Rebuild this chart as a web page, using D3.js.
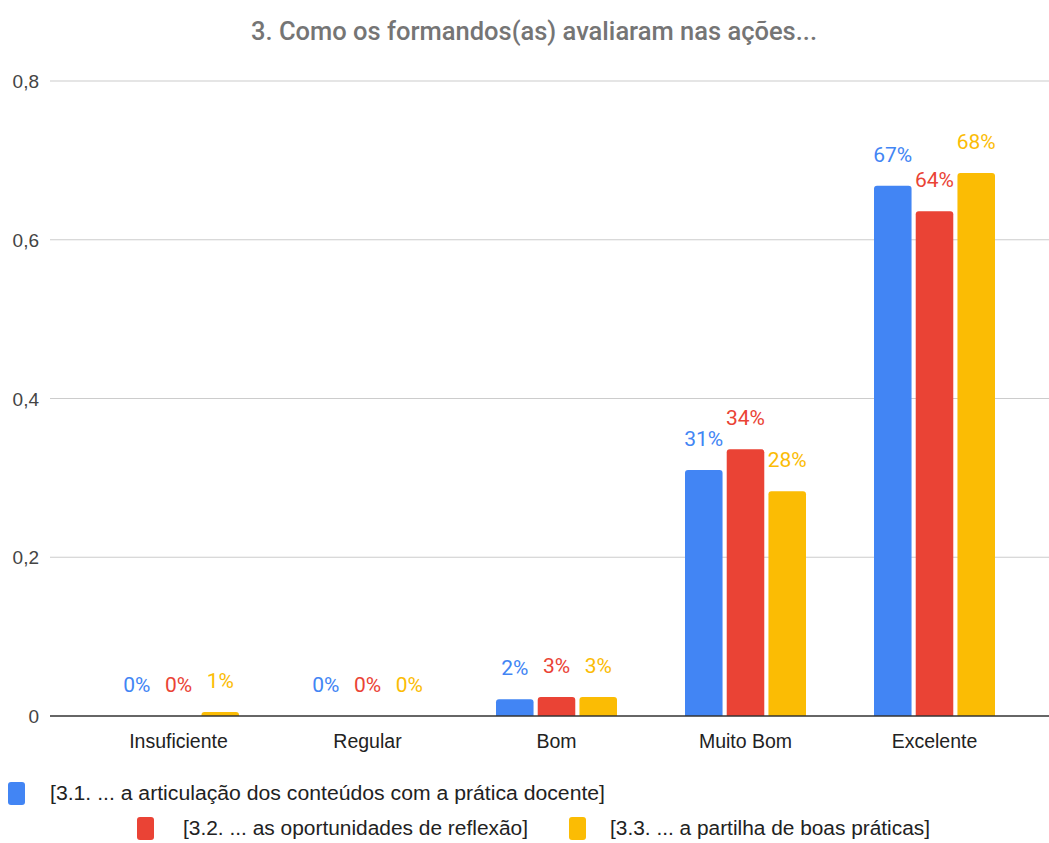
<!DOCTYPE html>
<html><head><meta charset="utf-8">
<script src="https://cdn.jsdelivr.net/npm/d3@7"></script>
<style>body{margin:0;background:#fff}svg{display:block}</style>
</head><body>
<svg id="c" width="1049" height="843"></svg>
<script>
const categories = ["Insuficiente","Regular","Bom","Muito Bom","Excelente"];
const seriesNames = [
  "[3.1. ... a articulação dos conteúdos com a prática docente]",
  "[3.2. ... as oportunidades de reflexão]",
  "[3.3. ... a partilha de boas práticas]"
];
const s1 = [0, 0, 0.021, 0.310, 0.668];
const s2 = [0, 0, 0.024, 0.336, 0.636];
const s3 = [0.005, 0, 0.024, 0.283, 0.684];
const labels1 = ["0%","0%","2%","31%","67%"];
const labels2 = ["0%","0%","3%","34%","64%"];
const labels3 = ["1%","0%","3%","28%","68%"];
const yTicks = [0, 0.2, 0.4, 0.6, 0.8];
const colors = ["#4285f4","#ea4335","#fbbc04"];

const svg = d3.select("#c");
const y = d3.scaleLinear().domain([0,0.8]).range([716,81]);
const x = d3.scaleBand().domain(categories).range([84,1029]).paddingInner(0).paddingOuter(0);
const xs = d3.scaleBand().domain([0,1,2]).range([0,121]).paddingInner(0.1);
const groupOffset = (x.bandwidth()-121)/2;

// title
svg.append("text").attr("x",534).attr("y",40).attr("text-anchor","middle")
  .attr("font-family","Roboto, Arial, sans-serif").attr("font-size",25).attr("font-weight",500)
  .attr("fill","#757575").attr("textLength",566).attr("lengthAdjust","spacingAndGlyphs")
  .text("3. Como os formandos(as) avaliaram nas ações...");

// grid
svg.append("g").selectAll("line").data(yTicks.filter(d=>d>0)).join("line")
  .attr("x1",50).attr("x2",1049).attr("y1",d=>y(d)).attr("y2",d=>y(d))
  .attr("stroke","#cccccc").attr("stroke-width",1.2);
svg.append("g").selectAll("text").data(yTicks).join("text")
  .attr("x",39).attr("y",d=>y(d)+7).attr("text-anchor","end")
  .attr("font-family","Liberation Sans, Arial, sans-serif").attr("font-size",19)
  .attr("fill","#444").text(d=>d===0?"0":String(d).replace(".",","));

const data = [s1,s2,s3];
const labs = [labels1,labels2,labels3];
data.forEach((s,si)=>{
  const g = svg.append("g");
  g.selectAll("path").data(categories.map((c,i)=>({c,v:s[i]}))).join("path")
    .attr("fill",colors[si])
    .attr("d",d=>{
      const x0 = x(d.c)+groupOffset+xs(si), w = xs.bandwidth();
      const y0 = y(d.v), h = y(0)-y0;
      if (h<=0) return "";
      const r = Math.min(3,h);
      return `M${x0},${y(0)}V${y0+r}Q${x0},${y0} ${x0+r},${y0}H${x0+w-r}Q${x0+w},${y0} ${x0+w},${y0+r}V${y(0)}Z`;
    });
  g.selectAll("text").data(categories.map((c,i)=>({c,v:s[i],l:labs[si][i]}))).join("text")
    .attr("x",d=>x(d.c)+groupOffset+xs(si)+xs.bandwidth()/2)
    .attr("y",d=>y(d.v)-24)
    .attr("text-anchor","middle")
    .attr("font-family","Roboto, Arial, sans-serif").attr("font-size",21)
    .attr("fill",colors[si]).text(d=>d.l);
});

// baseline
svg.append("line").attr("x1",50).attr("x2",1049).attr("y1",y(0)).attr("y2",y(0))
  .attr("stroke","#333").attr("stroke-width",1.6);

// x labels
svg.append("g").selectAll("text").data(categories).join("text")
  .attr("x",d=>x(d)+x.bandwidth()/2).attr("y",748).attr("text-anchor","middle")
  .attr("font-family","Liberation Sans, Arial, sans-serif").attr("font-size",19.5)
  .attr("fill","#222").text(d=>d);

// legend
const legend = [
  {x:8,y:782,tx:50,tl:555},
  {x:137,y:817,tx:183,tl:345},
  {x:569,y:817,tx:610,tl:320}
];
legend.forEach((L,i)=>{
  svg.append("rect").attr("x",L.x).attr("y",L.y).attr("width",17).attr("height",23)
    .attr("rx",3).attr("fill",colors[i]);
  svg.append("text").attr("x",L.tx).attr("y",L.y+18)
    .attr("font-family","Liberation Sans, Arial, sans-serif").attr("font-size",20)
    .attr("fill","#222").attr("textLength",L.tl).attr("lengthAdjust","spacingAndGlyphs")
    .text(seriesNames[i]);
});
</script>
</body></html>
